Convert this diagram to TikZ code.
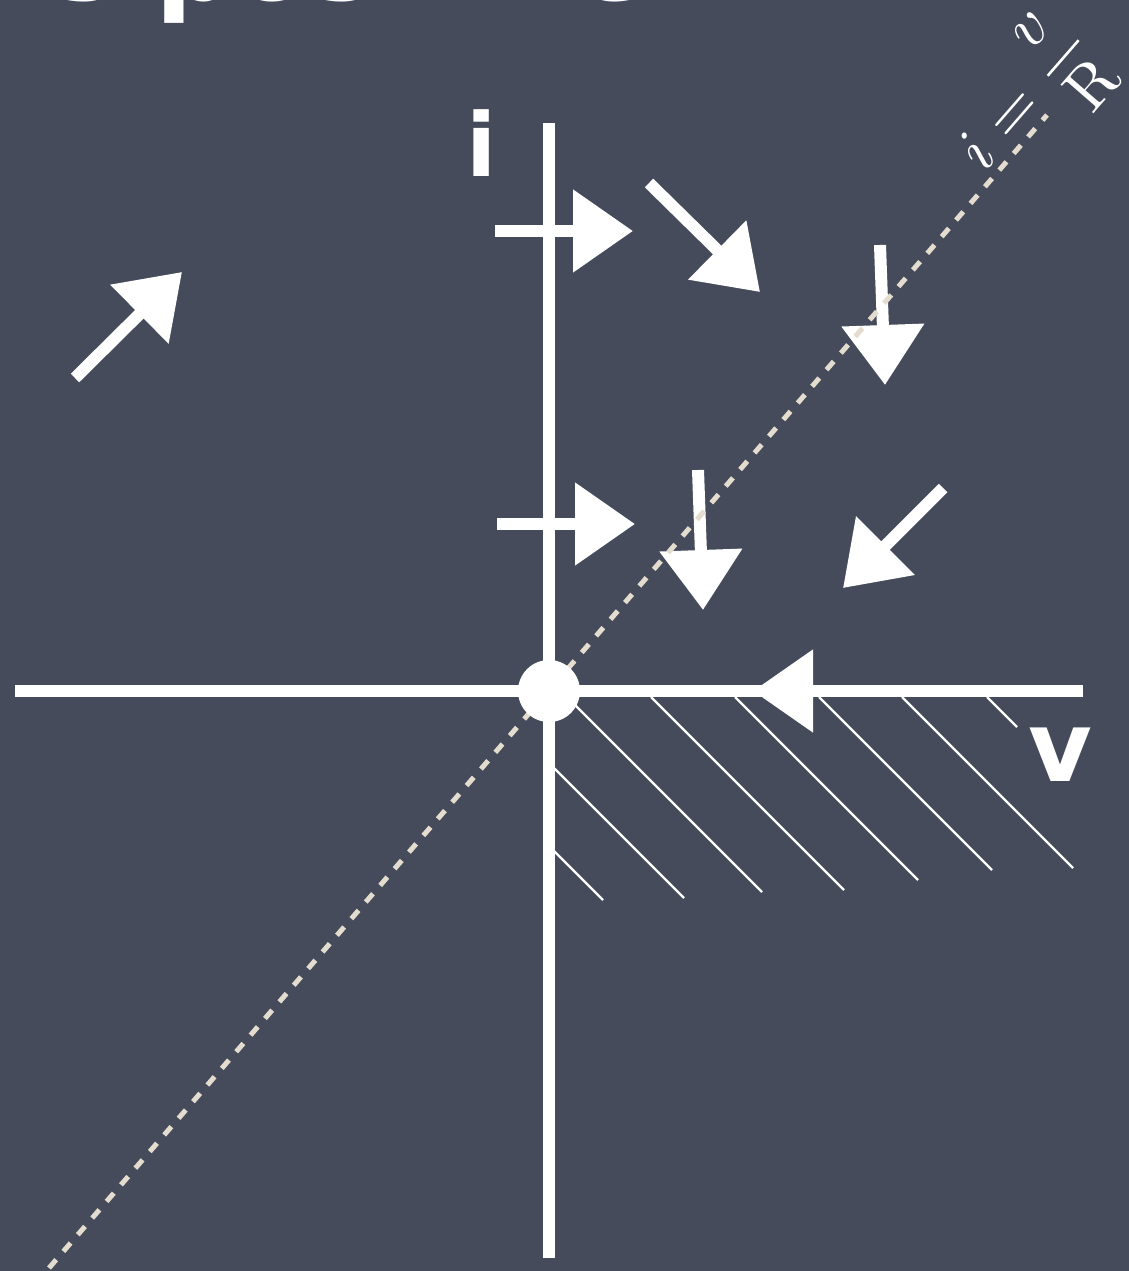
\documentclass[tikz,border=0pt]{standalone}
\usepackage{amsmath}
\usepackage{fontspec}
\newfontfamily\chalkfont{DejaVu Sans}
\usetikzlibrary{arrows.meta}
\definecolor{board}{RGB}{69,75,91}
\definecolor{dashchalk}{RGB}{228,220,206}

\begin{document}
\begin{tikzpicture}[x=1pt,y=-1pt,
  axisline/.style={white,line width=12pt},
  vecarrow/.style={white,line width=12pt,-{Triangle[length=60pt,width=80pt]}},
  hatchline/.style={white,line width=2.4pt},
  chalklabel/.style={white,inner sep=0pt,font=\chalkfont\bfseries}]
\useasboundingbox (0,0) rectangle (1129,1271);
\fill[board] (0,0) rectangle (1129,1271);
\clip (0,0) rectangle (1129,1271);

% Title, cut by the top edge
\node[chalklabel,anchor=base west,font=\chalkfont\bfseries\fontsize{110}{110}\selectfont] (title) at (14,1) {is positive};

% Hatched quadrant
\draw[hatchline] (549,846) -- (603,900);
\draw[hatchline] (549,763) -- (684,898);
\draw[hatchline] (567,697) -- (762,892);
\draw[hatchline] (651,697) -- (844,890);
\draw[hatchline] (735,697) -- (918,880);
\draw[hatchline] (819,697) -- (992,870);
\draw[hatchline] (902,697) -- (1073,868);
\draw[hatchline] (987,697) -- (1017,727);

% Axes
\coordinate (vleft) at (15,691);
\coordinate (vright) at (1083,691);
\coordinate (ibottom) at (549,1258);
\coordinate (itop) at (549,123);
\draw[axisline] (vleft) -- (vright);
\draw[axisline] (ibottom) -- (itop);
\node[chalklabel,font=\chalkfont\bfseries\fontsize{88}{88}\selectfont] (ilabel) at (482,143) {i};
\node[chalklabel,font=\chalkfont\bfseries\fontsize{98}{98}\selectfont] (vlabel) at (1060,755) {v};

% Direction arrows
\draw[vecarrow] (75,378) -- (182,272);
\draw[vecarrow] (495,231) -- (633,231);
\draw[vecarrow] (649,183) -- (760,292);
\draw[vecarrow] (880,245) -- (885,385);
\draw[vecarrow] (497,524) -- (635,524);
\draw[vecarrow] (698,470) -- (703,610);
\draw[vecarrow] (943,488) -- (843,588);
\draw[vecarrow] (835,691) -- (753,691);

% Resistor line
\coordinate (lawlow) at (49,1268);
\coordinate (lawhigh) at (1047,115);
\draw[dashchalk,line width=5pt,dash pattern=on 11pt off 11pt] (lawlow) -- (lawhigh);
\node[white,rotate=49,scale=6.4,anchor=base] (law) at (1040,109) {$i=\dfrac{v}{\mathrm{R}}$};

% Origin
\node[circle,fill=white,minimum size=62pt,inner sep=0pt] (origin) at (549,691) {};
\end{tikzpicture}
\end{document}
